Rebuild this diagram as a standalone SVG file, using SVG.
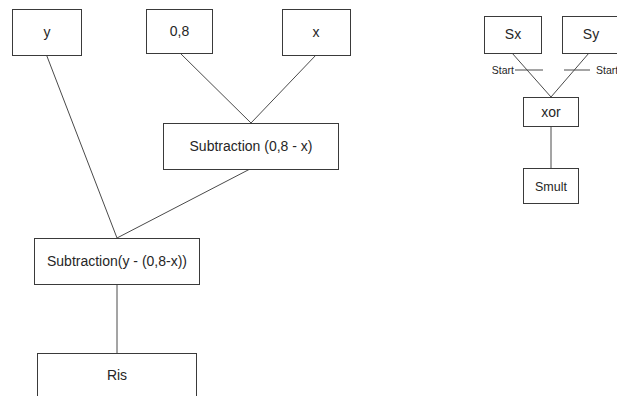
<svg xmlns="http://www.w3.org/2000/svg" width="617" height="396" viewBox="0 0 617 396">
  <style>
    .box { fill: #ffffff; stroke: #3a3a3a; stroke-width: 1; }
    .lbl { font-family: "Liberation Sans", Arial, sans-serif; font-size: 14px; fill: #262626; text-anchor: middle; dominant-baseline: central; }
    .sm { font-family: "Liberation Sans", Arial, sans-serif; font-size: 10.5px; fill: #262626; dominant-baseline: central; }
    .wire { stroke: #4a4a4a; stroke-width: 1; fill: none; }
  </style>
  <rect width="617" height="396" fill="#ffffff"/>

  <!-- connectors -->
  <g id="connectors">
    <line class="wire" x1="46.5" y1="55" x2="117" y2="238"/>
    <line class="wire" x1="180" y1="53" x2="251" y2="123"/>
    <line class="wire" x1="316" y1="55" x2="251" y2="123"/>
    <line class="wire" x1="250" y1="169" x2="117" y2="238"/>
    <line class="wire" x1="117" y1="284" x2="117" y2="353"/>
    <line class="wire" x1="512" y1="53" x2="551" y2="97"/>
    <line class="wire" x1="589" y1="53" x2="551" y2="97"/>
    <line class="wire" x1="551" y1="126" x2="551" y2="168"/>
    <!-- start markers -->
    <line class="wire" x1="515" y1="70" x2="543" y2="70"/>
    <line class="wire" x1="564" y1="70" x2="590" y2="70"/>
    <text class="sm" x="514" y="70" text-anchor="end">Start</text>
    <text class="sm" x="596" y="70">Start</text>
  </g>

  <g id="node-y">
    <rect class="box" x="12.5" y="9.5" width="69" height="46"/>
    <text class="lbl" x="47" y="32">y</text>
  </g>
  <g id="node-08">
    <rect class="box" x="146.5" y="9.5" width="66" height="44"/>
    <text class="lbl" x="179.5" y="31">0,8</text>
  </g>
  <g id="node-x">
    <rect class="box" x="282.5" y="9.5" width="68" height="46"/>
    <text class="lbl" x="316" y="32">x</text>
  </g>
  <g id="node-sub1">
    <rect class="box" x="163.5" y="123.5" width="175" height="46"/>
    <text class="lbl" x="251" y="146">Subtraction (0,8 - x)</text>
  </g>
  <g id="node-sub2">
    <rect class="box" x="34.5" y="238.5" width="165" height="46"/>
    <text class="lbl" x="117" y="261">Subtraction(y - (0,8-x))</text>
  </g>
  <g id="node-ris">
    <rect class="box" x="37.5" y="353.5" width="159" height="60"/>
    <text class="lbl" x="117" y="375">Ris</text>
  </g>
  <g id="node-sx">
    <rect class="box" x="484.5" y="16.5" width="57" height="37"/>
    <text class="lbl" x="513" y="34">Sx</text>
  </g>
  <g id="node-sy">
    <rect class="box" x="562.5" y="16.5" width="57" height="37"/>
    <text class="lbl" x="591" y="34">Sy</text>
  </g>
  <g id="node-xor">
    <rect class="box" x="523.5" y="97.5" width="55" height="29"/>
    <text class="lbl" x="551" y="112">xor</text>
  </g>
  <g id="node-smult">
    <rect class="box" x="523.5" y="168.5" width="55" height="35"/>
    <text class="lbl" x="551" y="187" style="font-size:12.5px">Smult</text>
  </g>
</svg>
